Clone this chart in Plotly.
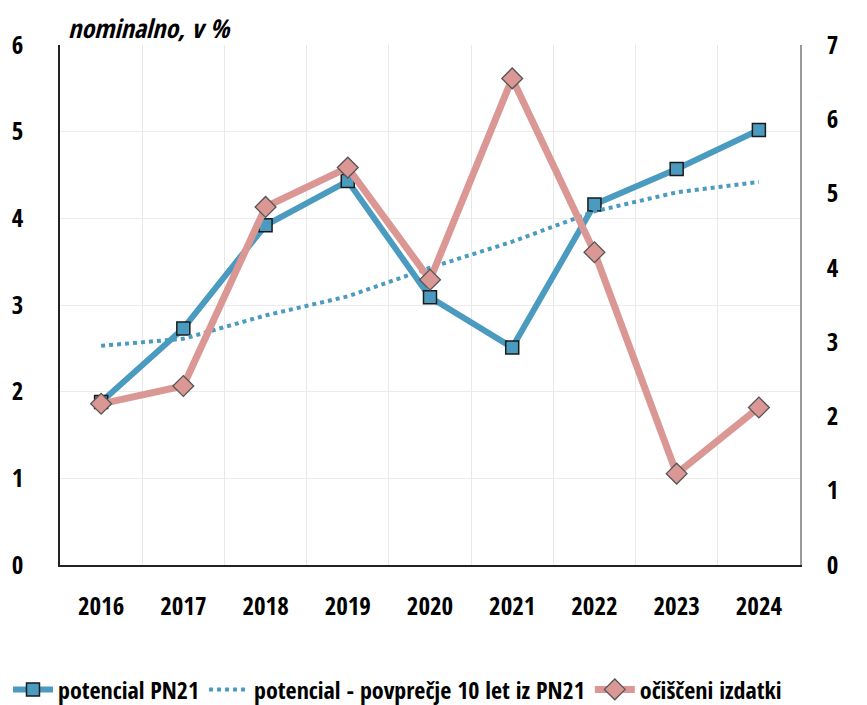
import plotly.graph_objects as go

years = [2016, 2017, 2018, 2019, 2020, 2021, 2022, 2023, 2024]
potencial_pn21 = [1.88, 2.73, 3.92, 4.43, 3.09, 2.51, 4.16, 4.57, 5.02]
potencial_povp10 = [2.53, 2.61, 2.88, 3.10, 3.43, 3.73, 4.08, 4.30, 4.42]
ocischeni_izdatki = [2.17, 2.41, 4.82, 5.35, 3.84, 6.55, 4.21, 1.23, 2.12]

left_ticks = [0, 1, 2, 3, 4, 5, 6]
right_ticks = [0, 1, 2, 3, 4, 5, 6, 7]

FONT = "Open Sans Condensed, Roboto Condensed, sans-serif"
BLUE = "#4a9bbf"
PINK = "#da9794"

fig = go.Figure()
fig.add_trace(go.Scatter(
    x=years, y=potencial_pn21, name="potencial PN21", mode="lines+markers",
    line=dict(color=BLUE, width=6),
    marker=dict(symbol="square", size=13, color=BLUE, line=dict(color="#1a1a1a", width=1.5)),
))
fig.add_trace(go.Scatter(
    x=years, y=potencial_povp10, name="potencial - povprečje 10 let iz PN21", mode="lines",
    line=dict(color=BLUE, width=4, dash="dot"),
))
fig.add_trace(go.Scatter(
    x=years, y=ocischeni_izdatki, name="očiščeni izdatki", mode="lines+markers",
    yaxis="y2",
    line=dict(color=PINK, width=7),
    marker=dict(symbol="diamond", size=16, color=PINK, line=dict(color="#555555", width=1.3)),
))

tickfont = dict(family=FONT, size=25, color="black", weight="bold")

# the page body adds an 8px offset, so the figure is sized 859x697
fig.update_layout(
    width=859, height=697,
    margin=dict(l=52, r=67, t=37, b=140, autoexpand=False),
    paper_bgcolor="white", plot_bgcolor="white",
    font=dict(family=FONT, size=22, color="black"),
    showlegend=True,
    legend=dict(orientation="h", xref="paper", yref="paper",
                x=-0.0703, xanchor="left", y=-0.24, yanchor="middle",
                font=dict(family=FONT, size=24, color="black", weight=600),
                itemwidth=40, tracegroupgap=0,
                bgcolor="rgba(0,0,0,0)", traceorder="normal"),
    xaxis=dict(
        range=[years[0] - 0.5, years[-1] + 0.5],
        tickvals=years, ticktext=[str(y) for y in years],
        showgrid=False, zeroline=False, ticks="", automargin=False,
        showline=True, linecolor="#222222", linewidth=1.5,
        tickfont=tickfont, ticklabelstandoff=18,
        minor=dict(tickvals=[y + 0.5 for y in years[:-1]], showgrid=True,
                   gridcolor="#e8e8e8", gridwidth=1, ticks=""),
    ),
    yaxis=dict(
        range=[0, 6], tickvals=left_ticks, showgrid=True, gridcolor="#ebebeb",
        zeroline=False, ticks="", showline=True, linecolor="#222222", linewidth=1.5,
        tickfont=tickfont, ticklabelstandoff=30, automargin=False,
    ),
    yaxis2=dict(
        range=[0, 7], tickvals=right_ticks, overlaying="y", side="right",
        showgrid=False, zeroline=False, ticks="", showline=True,
        linecolor="#9a9a9a", linewidth=1.5, automargin=False,
        tickfont=tickfont, ticklabelstandoff=20,
    ),
    annotations=[
        dict(text="<i>nominalno, v %</i>", xref="paper", yref="paper",
             x=0.008, y=1.0705, xanchor="left", yanchor="top", showarrow=False,
             font=dict(family=FONT, size=26, color="black", weight=600)),
    ],
)

fig.write_html("out.html")
